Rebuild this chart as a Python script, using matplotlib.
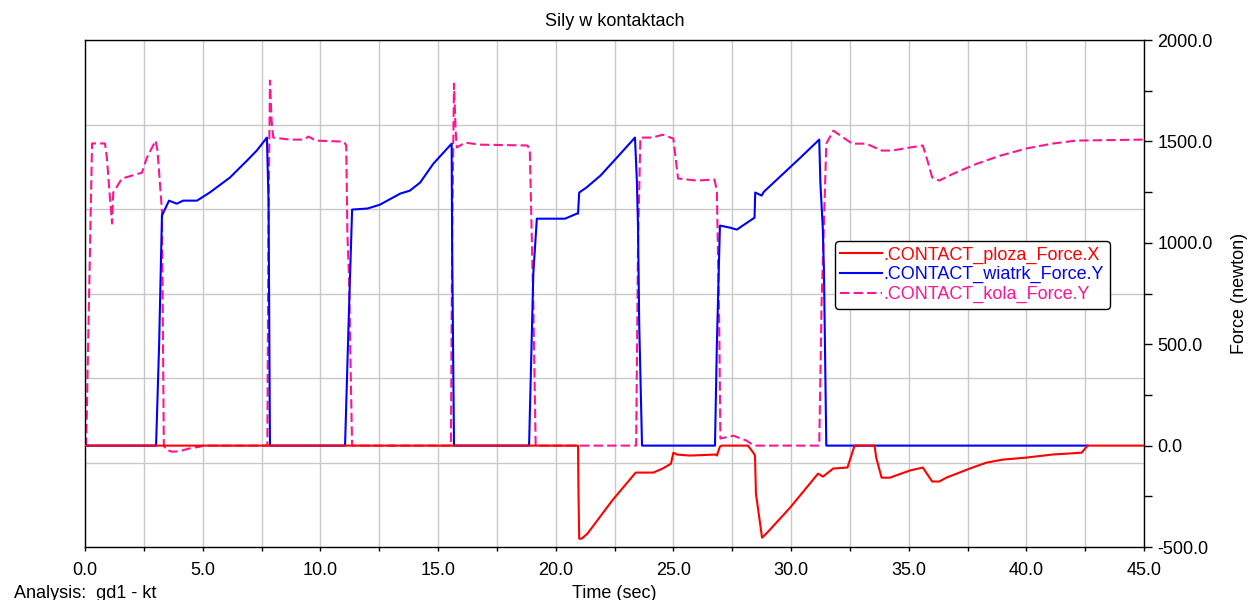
import numpy as np
import matplotlib
matplotlib.use('Agg')
import matplotlib.pyplot as plt
from matplotlib.ticker import MultipleLocator, FormatStrFormatter

plt.rcParams['font.family'] = ['Liberation Sans', 'DejaVu Sans']

# --- data (time in s, force in N) ---
t_ploza = [0.0, 20.95, 20.97, 21.0, 21.1, 21.35, 22.4, 23.4, 24.15, 24.55, 24.9, 25.0,
           25.15, 25.7, 26.8, 26.85, 26.98, 27.05, 28.17, 28.4, 28.47, 28.51, 28.77,
           28.95, 29.96, 31.15, 31.36, 31.79, 32.4, 32.7, 33.55, 33.62, 33.85, 34.2,
           35.05, 35.6, 36.0, 36.3, 36.6, 37.6, 38.3, 39.0, 40.0, 41.1, 42.35, 42.6, 45.0]
f_ploza = [0, 0, -237, -459, -459, -434, -271, -133, -133, -113, -89, -35,
           -44, -49, -44, -49, -5, 0, 0, -35, -49, -237, -454,
           -434, -306, -138, -153, -113, -108, 0, 0, -59, -158, -158,
           -123, -108, -177, -177, -158, -113, -84, -69, -59, -44, -35, 0, 0]

t_wiatrk = [0.0, 3.02, 3.15, 3.27, 3.57, 3.9, 4.17, 4.76, 5.3, 6.16, 6.88, 7.3, 7.73,
            7.8, 7.86, 11.05, 11.2, 11.35, 12.0, 12.53, 13.4, 13.8, 14.24, 14.8, 15.58,
            15.6, 15.68, 18.87, 19.05, 19.2, 20.4, 20.9, 20.95, 21.0, 21.3, 21.9, 22.6,
            23.37, 23.45, 23.5, 23.55, 23.67, 26.77, 26.85, 26.98, 27.4, 27.7, 27.95,
            28.45, 28.48, 28.75, 28.85, 29.67, 30.4, 31.2, 31.25, 31.35, 31.4, 31.5, 42.6]
f_wiatrk = [0, 0, 500, 1134, 1208, 1193, 1208, 1208, 1248, 1322, 1405, 1455, 1519,
            1200, 0, 0, 600, 1164, 1169, 1188, 1243, 1257, 1297, 1390, 1489,
            996, 0, 0, 848, 1119, 1119, 1144, 1144, 1248, 1272, 1331, 1420,
            1519, 1307, 1075, 600, 0, 0, 500, 1085, 1075, 1065, 1085,
            1124, 1248, 1233, 1252, 1341, 1420, 1509, 1292, 1075, 863, 0, 0]

t_kola = [0.0, 0.05, 0.3, 0.85, 0.93, 1.06, 1.15, 1.2, 1.57, 2.42, 2.63, 3.0, 3.08,
          3.27, 3.35, 3.45, 3.7, 4.0, 4.5, 4.9, 5.0, 7.75, 7.79, 7.86, 7.93, 8.0,
          8.7, 9.3, 9.5, 9.8, 11.0, 11.1, 11.15, 11.22, 11.3, 11.35, 15.55, 15.6,
          15.68, 15.75, 15.8, 16.15, 16.8, 18.8, 18.9, 18.95, 19.05, 19.15, 23.42,
          23.5, 23.6, 24.1, 24.55, 25.0, 25.2, 26.0, 26.75, 26.85, 26.95, 27.0,
          27.55, 28.1, 28.3, 28.5, 31.2, 31.3, 31.5, 31.8, 32.1, 32.6, 33.2, 33.85,
          34.3, 35.05, 35.6, 35.8, 36.0, 36.3, 36.9, 37.9, 38.9, 40.0, 41.1, 42.1, 45.0]
f_kola = [0, 0, 1490, 1490, 1420, 1223, 1095, 1248, 1317, 1346, 1420, 1504, 1455,
          1159, 0, -20, -30, -28, -12, -5, 0, 0, 1020, 1800, 1600, 1519,
          1509, 1509, 1524, 1504, 1499, 1480, 1045, 830, 300, 0, 0, 1000,
          1785, 1550, 1470, 1494, 1484, 1480, 1460, 1208, 700, 0, 0,
          1000, 1519, 1519, 1533, 1514, 1317, 1307, 1312, 1257, 600, 35,
          49, 25, 10, 0, 0, 700, 1489, 1553, 1529, 1489, 1489, 1455,
          1455, 1470, 1480, 1405, 1322, 1307, 1341, 1390, 1430, 1465, 1489, 1504, 1509]

labels = ['.CONTACT_ploza_Force.X', '.CONTACT_wiatrk_Force.Y', '.CONTACT_kola_Force.Y']
colors = ['#ff0000', '#0000ff', '#ff1493']
FS = 13

fig = plt.figure(figsize=(12.5, 6), dpi=100)
ax = fig.add_axes([0.068, 0.0883, 0.8472, 0.845])

xmin, xmax = 0.0, 45.0
ymin, ymax = -500.0, 2000.0

# grid: vertical every 2.5 s, horizontal split in 6 like the original tool
for gx in np.arange(xmin, xmax + 0.1, 2.5):
    ax.axvline(gx, color='#c8c8c8', lw=1.0, zorder=0)
for gy in np.linspace(ymin, ymax, 7):
    ax.axhline(gy, color='#c8c8c8', lw=1.0, zorder=0)

l_kola, = ax.plot(t_kola, f_kola, color=colors[2], lw=1.5, dashes=(4.5, 2), zorder=2)
l_wiatrk, = ax.plot(t_wiatrk, f_wiatrk, color=colors[1], lw=1.5, zorder=3)
l_ploza, = ax.plot(t_ploza, f_ploza, color=colors[0], lw=1.5, zorder=4)

ax.set_xlim(xmin, xmax)
ax.set_ylim(ymin, ymax)

ax.xaxis.set_major_locator(MultipleLocator(5))
ax.xaxis.set_minor_locator(MultipleLocator(2.5))
ax.xaxis.set_major_formatter(FormatStrFormatter('%.1f'))
ax.yaxis.set_major_locator(MultipleLocator(500))
ax.yaxis.set_minor_locator(MultipleLocator(250))
ax.yaxis.set_major_formatter(FormatStrFormatter('%.1f'))

ax.yaxis.tick_right()
ax.tick_params(axis='x', which='both', direction='out', length=3, width=1,
               labelsize=FS, pad=8, top=False)
ax.tick_params(axis='y', which='both', direction='out', length=6, width=1,
               labelsize=FS, pad=3.5, left=False, right=True)
for s in ax.spines.values():
    s.set_color('black')
    s.set_linewidth(1.0)

fig.text(614.5 / 1250, 1 - 22 / 600, 'Sily w kontaktach', ha='center', va='center', fontsize=FS)
fig.text(614.5 / 1250, 2 / 600, 'Time (sec)', ha='center', va='baseline', fontsize=FS)
fig.text(14 / 1250, 2 / 600, 'Analysis:  gd1 - kt', ha='left', va='baseline', fontsize=FS)
fig.text(1240 / 1250, 0.5 + (300 - 293) / 600, 'Force (newton)', rotation=90,
         ha='center', va='center', fontsize=FS)

leg = ax.legend([l_ploza, l_wiatrk, l_kola], labels, loc='upper left',
                bbox_to_anchor=(835 / 1250, 1 - 241 / 600), bbox_transform=fig.transFigure,
                fontsize=FS, handlelength=2.3, handletextpad=0.1, labelspacing=0.15,
                borderpad=0.3, borderaxespad=0, fancybox=True, framealpha=1,
                edgecolor='black', labelcolor='linecolor')
leg.get_frame().set_linewidth(1.0)
leg.set_zorder(10)

fig.savefig('out.png', dpi=100)
